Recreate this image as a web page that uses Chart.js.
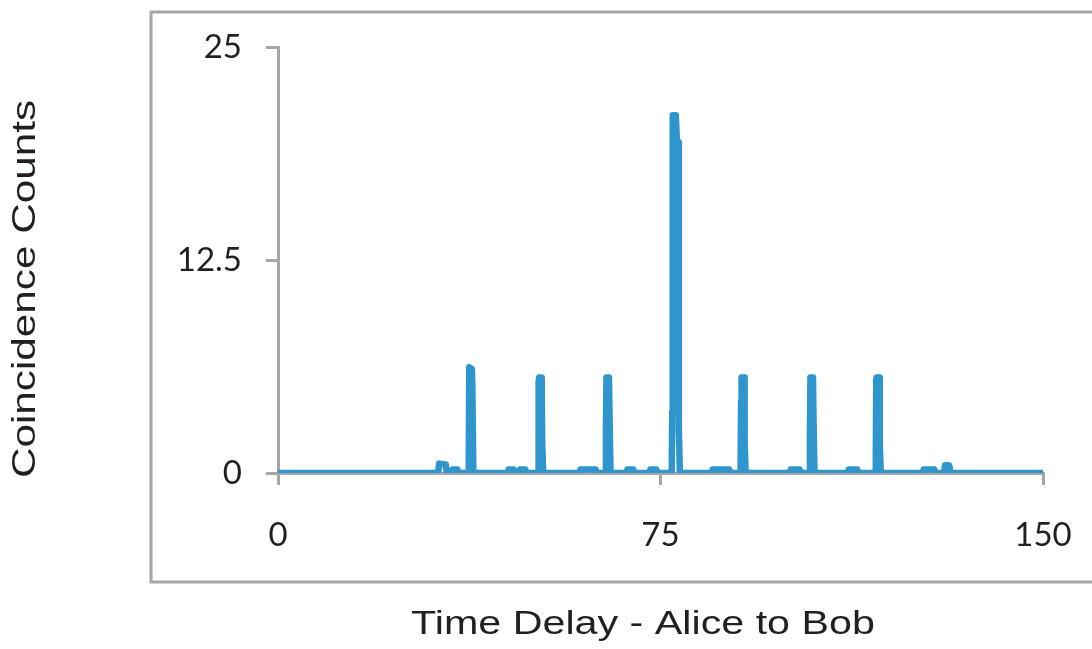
<!DOCTYPE html>
<html>
<head>
<meta charset="utf-8">
<title>Coincidence Counts</title>
<script src="https://cdn.jsdelivr.net/npm/chart.js@4/dist/chart.umd.min.js"></script>
<style>
    html, body { margin: 0; padding: 0; background: #ffffff; }
    #wrap { width: 1092px; height: 649px; }
</style>
</head>
<body>
<div id="wrap"><canvas id="coincidence-chart" width="1092" height="649"></canvas></div>
<script>
(function () {
    "use strict";

    // Chart data
    var xTitle = "Time Delay - Alice to Bob";
    var yTitle = "Coincidence Counts";
    var xTicks = [0, 75, 150];
    var yTicks = [0, 12.5, 25];

    var timeDelay = [
        0, 31.4, 31.6, 32.9, 33.1, 34.0, 34.2, 35.2, 35.4,
        37.3, 37.4, 37.5, 38.0, 38.1, 38.3,
        45.0, 45.2, 46.2, 46.4, 47.2, 47.4, 48.5, 48.7,
        51.0, 51.1, 51.2, 51.7, 51.8, 52.0,
        59.1, 59.3, 62.3, 62.5,
        64.2, 64.3, 64.4, 64.9, 65.0, 65.2,
        68.3, 68.5, 69.7, 69.9, 72.8, 73.0, 74.2, 74.4,
        77.2, 77.3, 77.4, 78.0, 78.2, 78.5, 78.6, 78.8,
        85.0, 85.2, 88.5, 88.7,
        90.7, 90.8, 90.9, 91.4, 91.5, 91.7,
        100.3, 100.5, 102.3, 102.5,
        104.2, 104.3, 104.4, 104.9, 105.0, 105.2,
        111.7, 111.9, 113.6, 113.8,
        117.2, 117.3, 117.4, 117.9, 118.0, 118.2,
        126.4, 126.6, 128.7, 128.9, 130.6, 130.8, 131.6, 131.9, 133.0, 150
    ];
    var counts = [
        0, 0, 0.55, 0.5, 0, 0, 0.2, 0.2, 0,
        0, 0.4, 6.2, 6.1, 5.3, 0,
        0, 0.2, 0.2, 0, 0, 0.2, 0.2, 0,
        0, 5.3, 5.6, 5.6, 1.8, 0,
        0, 0.2, 0.2, 0,
        0, 2.5, 5.6, 5.6, 3.5, 0,
        0, 0.2, 0.2, 0, 0, 0.2, 0.2, 0,
        0, 3.6, 21.0, 21.0, 19.6, 19.4, 2.5, 0,
        0, 0.2, 0.2, 0,
        0, 4.2, 5.6, 5.6, 1.8, 0,
        0, 0.2, 0.2, 0,
        0, 2.3, 5.6, 5.6, 3.2, 0,
        0, 0.2, 0.2, 0,
        0, 5.5, 5.6, 5.6, 1.5, 0,
        0, 0.2, 0.2, 0, 0, 0.45, 0.45, 0, 0, 0
    ];

    var points = timeDelay.map(function (t, i) {
        return {x: t, y: counts[i]};
    });

    var axisGray = "#a6a6a6";
    var textColor = "#231f20";

    // draw a title stretched along its own direction (the original uses a wide face)
    function wideText(ctx, text, x, y, angle, stretch) {
        ctx.save();
        ctx.translate(x, y);
        ctx.rotate(angle);
        ctx.scale(stretch, 1);
        ctx.fillText(text, 0, 0);
        ctx.restore();
    }

    // Outer frame + axis titles, placed relative to the plot area
    var frameAndTitles = {
        id: "frameAndTitles",
        beforeDraw: function (chart) {
            var ctx = chart.ctx, area = chart.chartArea;
            ctx.save();
            ctx.strokeStyle = axisGray;
            ctx.lineWidth = 3;
            ctx.strokeRect(area.left - 127, area.top - 35, chart.width + 60, area.bottom - area.top + 144);
            ctx.restore();
        },
        afterDraw: function (chart) {
            var ctx = chart.ctx, area = chart.chartArea;
            ctx.save();
            ctx.fillStyle = textColor;
            ctx.font = '33px "Liberation Sans", Arial, sans-serif';
            ctx.textAlign = "center";
            ctx.textBaseline = "alphabetic";
            wideText(ctx, xTitle, area.left + 365, area.bottom + 161, 0, 1.25);
            wideText(ctx, yTitle, 35, area.top + 242, -Math.PI / 2, 1.28);
            ctx.restore();
        }
    };

    var ctx1 = document.getElementById("coincidence-chart").getContext("2d");
    var myChart1 = new Chart(ctx1, {
        type: "line",
        data: {
            datasets: [{
                label: yTitle,
                data: points,
                borderColor: "#2e96cd",
                backgroundColor: "#2e96cd",
                borderWidth: 6.5,
                borderJoinStyle: "round",
                borderCapStyle: "round",
                pointRadius: 0,
                tension: 0,
                fill: false
            }]
        },
        options: {
            responsive: false,
            animation: false,
            devicePixelRatio: 1,
            layout: {
                padding: {top: 47, right: 49, left: 0, bottom: 0}
            },
            plugins: {
                legend: {display: false},
                tooltip: {enabled: false}
            },
            scales: {
                x: {
                    type: "linear",
                    min: xTicks[0],
                    max: xTicks[xTicks.length - 1],
                    afterBuildTicks: function (scale) {
                        scale.ticks = xTicks.map(function (v) { return {value: v}; });
                    },
                    ticks: {
                        color: textColor,
                        font: {family: "Lato", size: 33},
                        padding: 31,
                        maxRotation: 0
                    },
                    grid: {
                        drawOnChartArea: false,
                        drawTicks: true,
                        tickLength: 12,
                        color: axisGray,
                        lineWidth: 3
                    },
                    border: {color: axisGray, width: 3},
                    afterFit: function (scale) {
                        scale.height = 176;
                        // labels fit inside the right padding already
                        scale.paddingLeft = 0;
                        scale.paddingRight = 0;
                    }
                },
                y: {
                    type: "linear",
                    min: yTicks[0],
                    max: yTicks[yTicks.length - 1],
                    afterBuildTicks: function (scale) {
                        scale.ticks = yTicks.map(function (v) { return {value: v}; });
                    },
                    ticks: {
                        color: textColor,
                        font: {family: "Lato", size: 33},
                        padding: 24
                    },
                    grid: {
                        drawOnChartArea: false,
                        drawTicks: true,
                        tickLength: 12,
                        color: axisGray,
                        lineWidth: 3
                    },
                    border: {color: axisGray, width: 3},
                    afterFit: function (scale) {
                        scale.width = 278;
                        scale.paddingTop = 0;
                        scale.paddingBottom = 0;
                    }
                }
            }
        },
        plugins: [frameAndTitles]
    });
})();
</script>
</body>
</html>
